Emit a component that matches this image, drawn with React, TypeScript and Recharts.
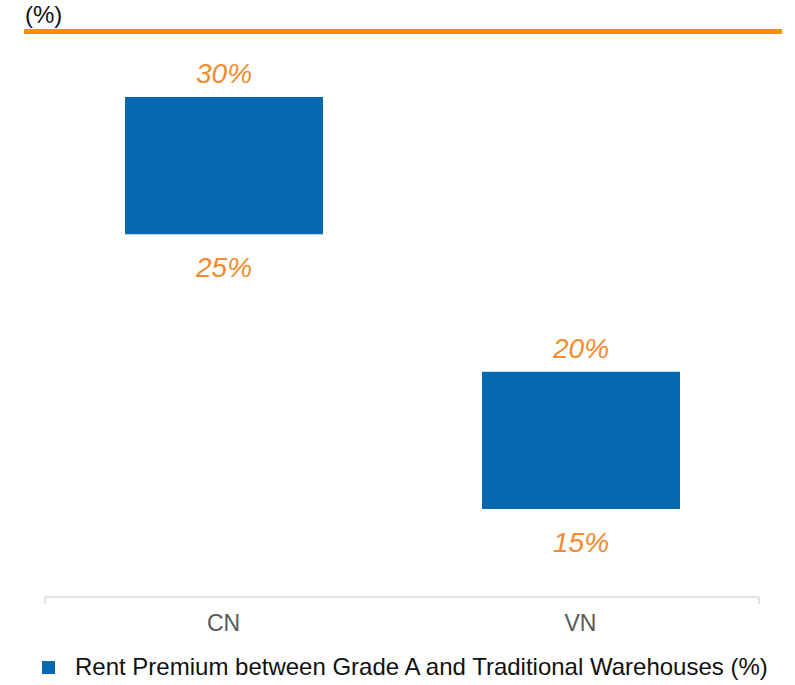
import { BarChart, Bar, XAxis, YAxis, Legend, LabelList } from "recharts";

const categories = ["CN", "VN"];
const premiumLow = [25, 15];
const premiumHigh = [30, 20];
const seriesName = "Rent Premium between Grade A and Traditional Warehouses (%)";
const unitLabel = "(%)";

const data = categories.map((name, i) => ({
  name,
  premium: [premiumLow[i], premiumHigh[i]],
}));

const FONT = '"Liberation Sans", Arial, sans-serif';
const BLUE = "#0568b1";
const ORANGE = "#f28a2e";

function RangeLabels(props: any) {
  const { x, y, width, height, index } = props;
  const cx = x + width / 2;
  const top = Math.min(y, y + height);
  const bottom = Math.max(y, y + height);
  const style = { fontFamily: FONT, fontSize: 28, fontStyle: "italic" as const, fill: ORANGE };
  return (
    <g>
      <text x={cx} y={top - 14} textAnchor="middle" {...style}>
        {premiumHigh[index]}%
      </text>
      <text x={cx} y={bottom + 43} textAnchor="middle" {...style}>
        {premiumLow[index]}%
      </text>
    </g>
  );
}

function LegendBox() {
  return (
    <div
      style={{
        display: "flex",
        alignItems: "center",
        height: 36,
        paddingLeft: 42,
        fontFamily: FONT,
        fontSize: 24,
        color: "#111",
      }}
    >
      <span style={{ width: 13, height: 13, background: BLUE, marginRight: 20, display: "inline-block" }} />
      <span>{seriesName}</span>
    </div>
  );
}

export default function App() {
  return (
    <div style={{ position: "absolute", left: 0, top: 0, width: 795, height: 685, background: "#fff" }}>
      <div
        style={{
          position: "absolute",
          left: 25,
          top: 3,
          fontFamily: FONT,
          fontSize: 24,
          lineHeight: "24px",
          color: "#111",
        }}
      >
        {unitLabel}
      </div>
      <div style={{ position: "absolute", left: 24, top: 29, width: 758, height: 5, background: "#f39200" }} />
      <BarChart
        width={795}
        height={685}
        data={data}
        margin={{ top: 31, right: 36, left: 45, bottom: 12 }}
      >
        <YAxis hide domain={[11.8, 32.4]} allowDataOverflow />
        <XAxis
          xAxisId="axisA"
          type="number"
          domain={[0, 2]}
          ticks={[0, 1, 2]}
          allowDataOverflow
          tickFormatter={() => ""}
          tick={{ fontSize: 1 }}
          tickSize={7}
          height={1}
          axisLine={{ stroke: "#d9d9d9", strokeWidth: 1.5 }}
          tickLine={{ stroke: "#d9d9d9", strokeWidth: 1.5 }}
        />
        <XAxis
          xAxisId="axisB"
          dataKey="name"
          axisLine={false}
          tickLine={false}
          tickSize={0}
          tickMargin={17}
          height={39}
          tick={{ fill: "#595959", fontSize: 23, fontFamily: FONT }}
        />
        <Legend
          verticalAlign="bottom"
          content={() => <LegendBox />}
          wrapperStyle={{ left: 0, width: 795, top: 649, bottom: "auto" }}
        />
        <Bar xAxisId="axisB" dataKey="premium" name={seriesName} fill={BLUE} barSize={198} isAnimationActive={false}>
          <LabelList dataKey="premium" content={(p: any) => <RangeLabels {...p} />} />
        </Bar>
      </BarChart>
    </div>
  );
}
